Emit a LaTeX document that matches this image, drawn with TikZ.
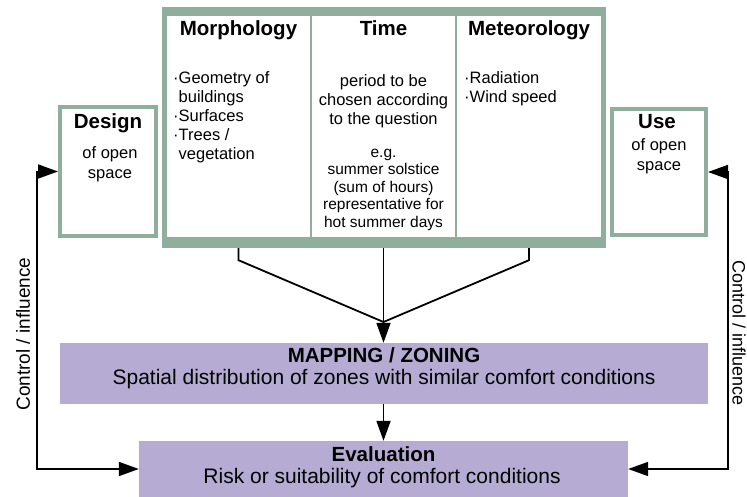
\documentclass[tikz,border=0pt]{standalone}
\usepackage{fontspec}
\setmainfont{Liberation Sans}
\usetikzlibrary{arrows.meta,calc}
\definecolor{frameg}{RGB}{143,174,155}
\definecolor{boxp}{RGB}{182,172,211}
\tikzset{
  colbox/.style={fill=white, draw=none, inner sep=0pt, minimum width=143pt, minimum height=221pt},
  sidebox/.style={draw=frameg, line width=4pt, fill=white, inner sep=0pt},
  purplebox/.style={fill=boxp, draw=none, inner sep=0pt},
  ttl/.style={font=\fontsize{20.5}{24}\selectfont\bfseries, inner sep=0pt, anchor=base},
  bigttl/.style={font=\fontsize{20.5}{24}\selectfont\bfseries, inner sep=0pt, anchor=base},
  bigtxt/.style={font=\fontsize{21}{25}\selectfont, inner sep=0pt, anchor=base},
  listtxt/.style={font=\fontsize{16.5}{19}\selectfont, inner sep=0pt, align=left},
  timetxt/.style={font=\fontsize{16.5}{19}\selectfont, inner sep=0pt, align=center},
  smalltxt/.style={font=\fontsize{15.5}{17.5}\selectfont, inner sep=0pt, align=center},
  sidetxt/.style={font=\fontsize{16.5}{20}\selectfont, inner sep=0pt, align=center},
  ctrl/.style={font=\fontsize{19}{22}\selectfont, inner sep=0pt},
  conn/.style={line width=1.8pt, black},
  tip/.tip={Triangle[length=20pt,width=14pt]},
  arr/.style={conn, -tip},
  arrboth/.style={conn, tip-tip},
}
\begin{document}
\begin{tikzpicture}[x=1pt,y=-1pt]
\useasboundingbox (0,0) rectangle (747,497);
\fill[white] (0,0) rectangle (747,497);

% top frame with three columns
\node[fill=frameg, draw=none, inner sep=0pt, minimum width=444pt, minimum height=241pt] (frame) at (384,127.5) {};
\node[colbox] (morph) at (238.5,126.5) {};
\node[colbox] (time) at (383.5,126.5) {};
\node[colbox, minimum width=144pt] (meteo) at (529,126.5) {};

\node[ttl] (morphT) at (238.5,36) {Morphology};
\node[ttl] (timeT) at (383.5,36) {Time};
\node[ttl] (meteoT) at (529,36) {Meteorology};

\node[listtxt, anchor=north west] (morphL) at (173,70.5)
  {\strut·Geometry of\\\phantom{·}buildings\\·Surfaces\\·Trees /\\\phantom{·}vegetation};
\node[listtxt, anchor=north west] (meteoL) at (464,70.5)
  {\strut·Radiation\\·Wind speed};
\node[timetxt, anchor=north] (timeA) at (383.5,73)
  {\strut period to be\\chosen according\\to the question};
\node[smalltxt, anchor=north] (timeB) at (383.5,145)
  {\strut e.g.\\summer solstice\\(sum of hours)\\representative for\\hot summer days};

% side boxes
\node[sidebox, minimum width=96pt, minimum height=129pt] (design) at (108,171.5) {};
\node[ttl] (designT) at (108,129) {Design};
\node[sidetxt, anchor=north] (designS) at (110,144) {\strut of open\\space};

\node[sidebox, minimum width=94pt, minimum height=126pt] (use) at (659,172) {};
\node[ttl] (useT) at (657,129) {Use};
\node[sidetxt, anchor=north] (useS) at (659,136) {\strut of open\\space};

% bottom boxes
\node[purplebox, minimum width=648pt, minimum height=61pt] (mapping) at (384,373.5) {};
\node[bigttl] (mapT) at (384,362) {MAPPING / ZONING};
\node[bigtxt] (mapS) at (384,384.5) {Spatial distribution of zones with similar comfort conditions};

\node[purplebox, minimum width=489pt, minimum height=56pt] (eval) at (383.5,469) {};
\node[bigttl] (evalT) at (383.5,461) {Evaluation};
\node[bigtxt] (evalS) at (382,483) {Risk or suitability of comfort conditions};

% connectors
\coordinate (m) at (383.5,322);
\draw[conn] (morph.south |- frame.south) -- ++(0,12) -- (m);
\draw[conn] (meteo.south |- frame.south) -- ++(0,12) -- (m);
\draw[arr] (time.south |- frame.south) -- (time.south |- mapping.north);
\draw[arr] (eval.north |- mapping.south) -- (eval.north);

\coordinate (L) at (37,320);
\coordinate (R) at (728,320);
\draw[arrboth] (design.west) -| (L) |- (eval.west);
\draw[arrboth] (use.east) -| (R) |- (eval.east);

\node[ctrl, rotate=90] (ctrlL) at (23,334) {Control / influence};
\node[ctrl, font=\fontsize{18}{22}\selectfont, rotate=-90] (ctrlR) at (739,333) {Control / influence};
\end{tikzpicture}
\end{document}
